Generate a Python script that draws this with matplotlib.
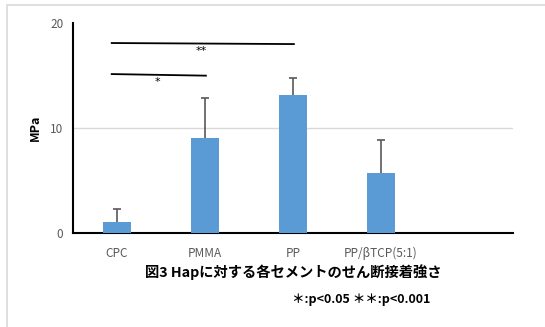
import numpy as np
import matplotlib.pyplot as plt
from matplotlib.patches import Rectangle

plt.rcParams['font.family'] = ['Noto Sans CJK JP', 'DejaVu Sans']

categories = ['CPC', 'PMMA', 'PP', 'PP/βTCP(5:1)', '']
means = [1.0, 9.0, 13.1, 5.7]
errors = [1.3, 3.8, 1.6, 3.1]

# significance brackets: (x start, x end, y start, y end, label)
sig_lines = [(-0.06, 2.01, 18.05, 17.95, '**'),
             (-0.06, 1.01, 15.1, 14.95, '*')]

fig = plt.figure(figsize=(5.45, 3.27), dpi=100)
fig.patches.append(Rectangle((7 / 545, -0.1), 1.2, 1 - 5 / 327 + 0.1,
                             transform=fig.transFigure, fill=False,
                             edgecolor='#d9d9d9', linewidth=1.2))

ax = fig.add_axes([73 / 545, 1 - 233 / 327, 440 / 545, 210.5 / 327])
x = np.arange(len(categories))
xb = x[:len(means)]
tops = np.array(means) + np.array(errors)
ax.bar(xb, means, width=0.31, color='#5b9bd5', zorder=3)
# upper error bars only
ax.vlines(xb, means, tops, color='#595959', linewidth=1.2, zorder=4)
ax.plot(xb, tops, linestyle='none', marker='_', markersize=6,
        markeredgewidth=1.2, color='#595959', zorder=4)

ax.set_xlim(-0.5, 4.5)
ax.set_ylim(0, 20)
ax.set_yticks([0, 10, 20])
ax.set_xticks(x)
ax.set_xticklabels(categories)
ax.tick_params(length=0, labelsize=8.5, labelcolor='#595959')
ax.tick_params(axis='y', pad=7)
ax.tick_params(axis='x', pad=10)
ax.axhline(10, color='#d9d9d9', linewidth=1, zorder=1)
for s in ['top', 'right']:
    ax.spines[s].set_visible(False)
ax.spines['left'].set_linewidth(1.5)
ax.spines['bottom'].set_linewidth(1.5)
ax.set_ylabel('MPa', fontsize=9, fontweight='bold', labelpad=6)

for x0, x1, y0, y1, lab in sig_lines:
    ax.plot([x0, x1], [y0, y1], color='black', linewidth=1.3, clip_on=False)
    ax.text((x0 + x1) / 2 - 0.02, (y0 + y1) / 2 - 0.25, lab, ha='center', va='top',
            fontsize=8, family='DejaVu Sans')

fig.text(293 / 545, 1 - 272 / 327, '図3 Hapに対する各セメントのせん断接着強さ',
         ha='center', va='center', fontsize=10.3, fontweight='bold')
fig.text(361 / 545, 1 - 300 / 327, '＊:p<0.05 ＊＊:p<0.001',
         ha='center', va='center', fontsize=9, fontweight='bold')

fig.savefig('out.png', dpi=100)
